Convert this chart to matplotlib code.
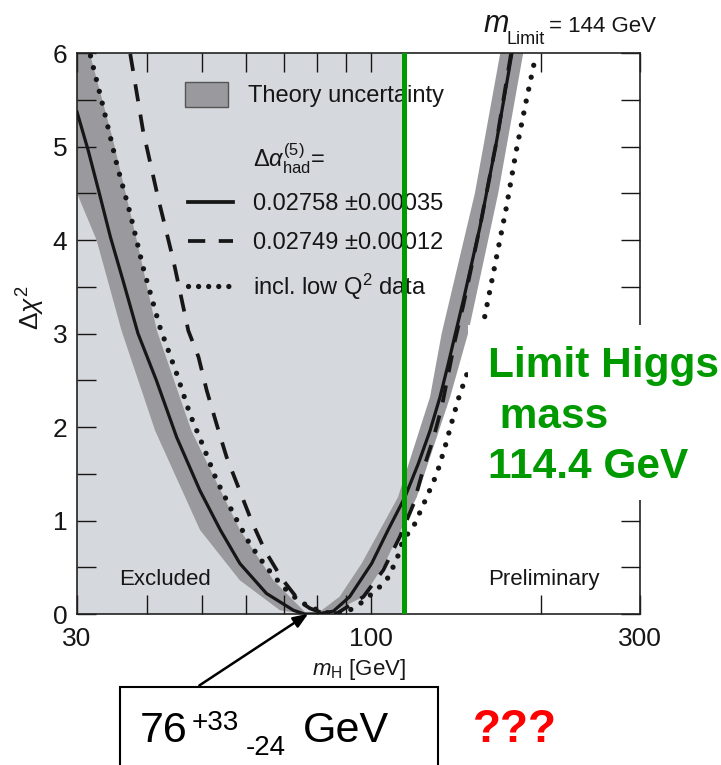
import matplotlib
matplotlib.use("Agg")
import matplotlib.pyplot as plt
from matplotlib.patches import Patch, Rectangle
from matplotlib.lines import Line2D

# chi^2 curves vs Higgs mass (GeV)
solid_m = [30, 31.4, 32.9, 34.4, 36.2, 38.5, 41.5, 45.1, 49.6, 53.9, 58.4, 65.1, 72.7, 76,
           80, 85.6, 91.5, 100.1, 107.1, 114.7, 121.2, 127.1, 132.4, 137.0, 141.0, 145.6,
           155.9, 166.9, 177.6]
solid_chi = [5.37, 4.96, 4.49, 4.03, 3.57, 3.0, 2.50, 1.89, 1.32, 0.90, 0.54, 0.22, 0.04, 0.0,
             0.0, 0.03, 0.185, 0.54, 0.90, 1.25, 1.61, 1.96, 2.32, 2.68, 3.0, 3.35,
             4.14, 5.06, 5.99]

dashed_m = [37.3, 39.3, 41.8, 44.5, 47.3, 49.3, 51.0, 53.1, 55.3, 58.0, 61.3, 64.7, 69.3, 74.7,
            77.8, 82, 87, 96.8, 105, 112.4, 118.9, 123.5, 128.6, 133.3, 137.0, 140.8, 145.6,
            155.9, 166.9, 177.0]
dashed_chi = [5.99, 5.17, 4.45, 3.78, 3.03, 2.75, 2.39, 2.03, 1.68, 1.36, 0.99, 0.68, 0.38, 0.13,
              0.06, 0.01, 0.01, 0.185, 0.47, 0.83, 1.18, 1.54, 1.86, 2.21, 2.57, 2.93, 3.30,
              4.14, 5.06, 5.99]

dotted_m = [31.7, 33.4, 35.3, 37.3, 39.3, 42.1, 45.1, 47.6, 50.3, 53.1, 56.9, 60.8, 65.1, 69.7,
            74.7, 78.8, 85, 90, 94.2, 102.2, 106.4, 110.9, 113.8, 118.9, 125.4, 130.7, 135.2,
            139.8, 143.7, 146.6, 158.0, 164.6, 173.7, 180.9, 188.4, 195.5]
dotted_chi = [5.97, 5.42, 4.81, 4.28, 3.71, 3.07, 2.57, 2.14, 1.79, 1.43, 1.07, 0.75, 0.50, 0.29,
              0.13, 0.06, 0.0, 0.02, 0.08, 0.26, 0.36, 0.58, 0.79, 0.94, 1.25, 1.50, 1.79,
              2.11, 2.36, 2.50, 3.10, 3.64, 4.35, 4.96, 5.49, 5.95]

# theory uncertainty band: outer and inner edges
band_out_m = [30, 30, 32.5, 36.0, 41.3, 49.6, 58.4, 68.8, 76, 84, 96.8, 105.6, 120.4, 138,
              148.5, 168, 186.1]
band_out_chi = [6.0, 4.5, 4.0, 3.03, 1.96, 0.90, 0.36, 0.04, 0.0, 0.0, 0.185, 0.54, 1.25, 2.32,
                3.0, 4.5, 6.0]
band_in_m = [31.6, 34.8, 38.3, 41.6, 47.9, 58.4, 67.0, 76.8, 80, 87.8, 96.1, 111.5, 127.1,
             133.3, 152.7, 169.4]
band_in_chi = [6.0, 5.06, 4.0, 3.03, 1.96, 0.90, 0.36, 0.0, 0.0, 0.185, 0.54, 1.25, 2.32,
               3.0, 4.5, 6.0]

m_limit_lep = 114.4
m_best, err_up, err_dn = 76, 33, 24

W, H = 721, 765
plt.rcParams["font.family"] = ["Liberation Sans", "DejaVu Sans"]
plt.rcParams["mathtext.fontset"] = "custom"
plt.rcParams["mathtext.rm"] = "Liberation Sans"
plt.rcParams["mathtext.it"] = "Liberation Sans:italic"

INK = "#161616"
BAND = "#9a9a9e"


def fpx(x, y):
    # pixel position -> figure fraction
    return x / W, 1 - y / H


fig = plt.figure(figsize=(W / 100, H / 100), dpi=100)
ax = fig.add_axes([77 / W, 1 - 614 / H, (640 - 77) / W, (614 - 53) / H])

ax.set_xscale("log")
ax.set_xlim(30, 300)
ax.set_ylim(0, 6)

ax.axvspan(30, m_limit_lep, color="#d5d8dc", lw=0, zorder=0.5)
ax.fill(band_out_m + band_in_m[::-1], band_out_chi + band_in_chi[::-1],
        color=BAND, lw=0, zorder=1)

ax.plot(solid_m, solid_chi, color=INK, lw=2.3, zorder=3)
ax.plot(dashed_m, dashed_chi, color=INK, lw=2.7, ls=(0, (4.6, 3.6)), zorder=3)
ax.plot(dotted_m, dotted_chi, color=INK, lw=3.8, ls=(0, (0.01, 2.3)),
        dash_capstyle="round", zorder=3)

ax.axvline(m_limit_lep, color="#009900", lw=3.6, zorder=6)

ax.set_xticks([30, 100, 300])
ax.set_xticklabels(["30", "100", "300"])
ax.set_xticks([40, 50, 60, 70, 80, 90, 200], minor=True)
ax.set_xticklabels([], minor=True)
ax.set_yticks(range(7))
ax.set_yticks([0.5 + i for i in range(6)], minor=True)
ax.tick_params(which="both", direction="in", length=13.5, width=1, top=True, right=True,
               labelsize=19, colors=INK)
ax.tick_params(axis="x", pad=9)
ax.tick_params(axis="y", pad=7)
for s in ax.spines.values():
    s.set_linewidth(1.2)
    s.set_color("#222222")

ax.set_xlabel(r"$m_{\rm H}$ [GeV]", fontsize=16, labelpad=5, color=INK)
fig.text(*fpx(31, 308), r"$\Delta\chi^2$", rotation=90, ha="center", va="center",
         fontsize=19, color=INK)

ax.text(35.7, 0.31, "Excluded", fontsize=16, color=INK, zorder=4)
ax.text(161, 0.31, "Preliminary", fontsize=16, color=INK, zorder=4)

# legends
leg1 = ax.legend(handles=[Patch(facecolor=BAND, edgecolor="#555555", lw=1)],
                 labels=["Theory uncertainty"], loc="upper left",
                 bbox_to_anchor=fpx(185, 82), bbox_transform=fig.transFigure,
                 frameon=False, fontsize=17, borderpad=0, borderaxespad=0,
                 handlelength=1.8, handleheight=1.25, handletextpad=0.85)
for t in leg1.get_texts():
    t.set_color(INK)
ax.add_artist(leg1)
handles = [Line2D([], [], ls="none"),
           Line2D([], [], color=INK, lw=2.7),
           Line2D([], [], color=INK, lw=2.7, ls=(0, (4.6, 3.6))),
           Line2D([], [], color=INK, lw=3.8, ls=(0, (0.01, 1.9)), dash_capstyle="round")]
labels = [r"$\Delta\alpha^{(5)}_{\rm had}$=", "0.02758 \u00b10.00035", "0.02749 \u00b10.00012",
          r"incl. low Q$^2$ data"]
leg2 = ax.legend(handles=handles, labels=labels, loc="upper left",
                 bbox_to_anchor=fpx(188, 142), bbox_transform=fig.transFigure,
                 frameon=False, fontsize=17, borderpad=0, borderaxespad=0,
                 handlelength=1.9, handletextpad=0.85, labelspacing=0.72)
for t in leg2.get_texts():
    t.set_color(INK)

# LEP upper limit from the fit
fig.text(*fpx(483, 32), "m", fontsize=22, style="italic", va="baseline", color=INK)
fig.text(*fpx(506, 44), "Limit", fontsize=13, va="baseline", color=INK)
fig.text(*fpx(549, 32), "= 144 GeV", fontsize=16, va="baseline", color=INK)

# white panel with the LEP limit note
fig.add_artist(Rectangle(fpx(468, 500), (W - 468) / W, 175 / H, transform=fig.transFigure,
                         facecolor="white", edgecolor="none", zorder=3))
for txt, x, y in [("Limit Higgs", 488, 377), (" mass", 488, 428),
                  (f"{m_limit_lep} GeV", 488, 478)]:
    fig.text(*fpx(x, y), txt, color="#009900", fontsize=30.5, fontweight="bold",
             va="baseline", zorder=4)

# best-fit result box and arrow
fig.add_artist(Rectangle(fpx(120, 800), (438 - 120) / W, (800 - 687) / H,
                         transform=fig.transFigure, facecolor="white", edgecolor="black",
                         lw=1.5, zorder=3))
ax.annotate("", xy=(78, 0.02), xytext=fpx(197, 687), textcoords="figure fraction",
            arrowprops=dict(arrowstyle="-|>,head_length=0.9,head_width=0.35",
                            color="black", lw=1.8), annotation_clip=False, zorder=7)
fig.text(*fpx(140, 742), f"{m_best}", fontsize=31, va="baseline", zorder=4)
fig.text(*fpx(192, 730), f"+{err_up}", fontsize=20, va="baseline", zorder=4)
fig.text(*fpx(246, 755), f"-{err_dn}", fontsize=20, va="baseline", zorder=4)
fig.text(*fpx(303, 742), "GeV", fontsize=31, va="baseline", zorder=4)
fig.text(*fpx(473, 742), "???", fontsize=33, fontweight="bold", color="#ff0000",
         va="baseline", zorder=4)

fig.savefig("out.png", dpi=100)
